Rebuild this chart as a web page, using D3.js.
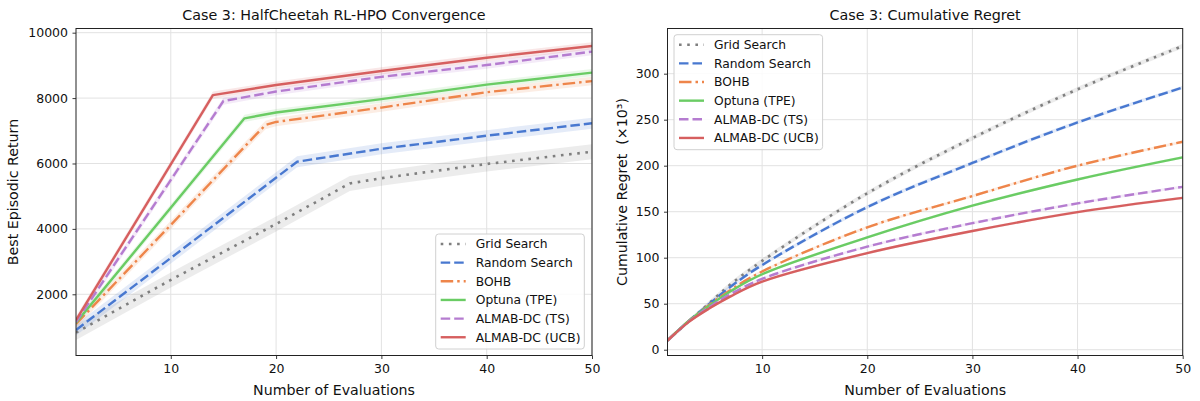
<!DOCTYPE html>
<html>
<head>
<meta charset="utf-8">
<script src="https://cdn.jsdelivr.net/npm/d3@7"></script>
<style>
  html, body { margin: 0; padding: 0; background: #fff; }
  svg { display: block; font-family: "DejaVu Sans", sans-serif; }
  text { white-space: pre; }
</style>
</head>
<body>
<svg id="fig" width="1200" height="401"></svg>
<script>
// ---- data -------------------------------------------------------------
const methods = ["Grid Search", "Random Search", "BOHB", "Optuna (TPE)", "ALMAB-DC (TS)", "ALMAB-DC (UCB)"];
const xTicks = [10, 20, 30, 40, 50];
const returnTicks = [2000, 4000, 6000, 8000, 10000];
const regretTicks = [0, 50, 100, 150, 200, 250, 300];

// best episodic return (mean) sampled at evaluation counts
const gridEvals = [1, 10, 20, 27, 30, 40, 50];
const gridReturn = [830, 2440, 4150, 5390, 5550, 5985, 6360];
const randomEvals = [1, 10, 22, 30, 40, 50];
const randomReturn = [910, 3110, 6055, 6450, 6850, 7230];
const bohbEvals = [1, 10, 18, 19, 20, 30, 40, 50];
const bohbReturn = [1090, 4120, 6850, 7180, 7270, 7710, 8180, 8520];
const tpeEvals = [1, 17, 20, 30, 40, 50];
const tpeReturn = [1130, 7380, 7560, 7970, 8410, 8780];
const tsEvals = [1, 15, 20, 30, 40, 50];
const tsReturn = [1150, 7910, 8200, 8650, 9010, 9420];
const ucbEvals = [1, 14, 20, 30, 40, 50];
const ucbReturn = [1210, 8090, 8400, 8830, 9235, 9595];
// half-width of the shaded spread around each return curve
const returnSpread = [230, 170, 130, 110, 110, 110];

// cumulative regret (x10^3)
const regretEvals = [1, 3, 5, 7, 10, 20, 30, 40, 50];
const gridRegret = [10, 30.5, 51, 71, 96.5, 170, 230, 283, 330];
const randomRegret = [10, 31, 50, 68.5, 92, 155, 203, 247, 285];
const bohbRegret = [10, 31, 49, 65, 85, 133, 167, 200, 226];
const tpeRegret = [10, 31, 48, 63.5, 82, 122, 156.5, 185, 209];
const tsRegret = [10, 30.5, 46.5, 60.5, 77, 112, 137.5, 159, 177];
const ucbRegret = [10, 30, 45, 58, 74, 105, 129, 149.5, 165];
const regretSpread = [2.5, 2, 1.5, 1.5, 1.5, 1.5];

// ---- styling -----------------------------------------------------------
const colors = ["#7f7f7f", "#4878d0", "#ee854a", "#6acc64", "#b57cd0", "#d65f5f"];
const dashes = ["2.6,5.6", "9.5,4", "12.5,4,2.5,4", null, "9.5,4", null];
const widths = [2.6, 2.4, 2.4, 2.4, 2.4, 2.4];

const returnSeries = [
  [gridEvals, gridReturn], [randomEvals, randomReturn], [bohbEvals, bohbReturn],
  [tpeEvals, tpeReturn], [tsEvals, tsReturn], [ucbEvals, ucbReturn]
].map(([xs, ys], i) => ({ name: methods[i], i, pts: xs.map((x, k) => ({ x, y: ys[k], s: returnSpread[i] })) }));

const regretSeries = [gridRegret, randomRegret, bohbRegret, tpeRegret, tsRegret, ucbRegret]
  .map((ys, i) => ({ name: methods[i], i, pts: regretEvals.map((x, k) => ({ x, y: ys[k], s: regretSpread[i] })) }));

const svg = d3.select("#fig");

function panel(opts) {
  const { left, right, top, bottom, yDomain, yTicks, series, curve, title, ylabel, ylabelX, legend, id } = opts;
  const x = d3.scaleLinear().domain([1, 50]).range([left, right]);
  const y = d3.scaleLinear().domain(yDomain).range([bottom, top]);
  const g = svg.append("g");

  g.append("clipPath").attr("id", id).append("rect")
    .attr("x", left).attr("y", top).attr("width", right - left).attr("height", bottom - top);

  // grid
  const grid = g.append("g").attr("stroke", "#d9d9d9").attr("stroke-width", 1).attr("opacity", 0.75);
  xTicks.forEach(t => grid.append("line").attr("x1", x(t)).attr("x2", x(t)).attr("y1", top).attr("y2", bottom));
  yTicks.forEach(t => grid.append("line").attr("x1", left).attr("x2", right).attr("y1", y(t)).attr("y2", y(t)));

  const plot = g.append("g").attr("clip-path", `url(#${id})`);
  const area = d3.area().x(d => x(d.x)).y0(d => y(d.y - d.s)).y1(d => y(d.y + d.s)).curve(curve);
  const line = d3.line().x(d => x(d.x)).y(d => y(d.y)).curve(curve);

  series.forEach(s => {
    plot.append("path").attr("d", area(s.pts)).attr("fill", colors[s.i]).attr("opacity", 0.15);
  });
  series.forEach(s => {
    plot.append("path").attr("d", line(s.pts)).attr("fill", "none")
      .attr("stroke", colors[s.i]).attr("stroke-width", widths[s.i])
      .attr("stroke-dasharray", dashes[s.i]).attr("stroke-linejoin", "round");
  });

  // axes
  const xAxis = d3.axisBottom(x).tickValues(xTicks).tickSize(3.5).tickPadding(4.5).tickFormat(d3.format("d"));
  const yAxis = d3.axisLeft(y).tickValues(yTicks).tickSize(3.5).tickPadding(4.5).tickFormat(d3.format("d"));
  const ax = g.append("g").attr("transform", `translate(0,${bottom})`).call(xAxis);
  const ay = g.append("g").attr("transform", `translate(${left},0)`).call(yAxis);
  [ax, ay].forEach(a => {
    a.select(".domain").remove();
    a.selectAll(".tick line").attr("stroke", "#222").attr("stroke-width", 0.9);
    a.selectAll(".tick text").attr("fill", "#111").style("font-size", "12.5px").style("font-family", "DejaVu Sans");
  });
  ax.selectAll(".tick text").attr("dy", "0.75em");

  // spines
  g.append("rect").attr("x", left).attr("y", top).attr("width", right - left).attr("height", bottom - top)
    .attr("fill", "none").attr("stroke", "#222").attr("stroke-width", 1);

  // titles and labels
  g.append("text").attr("x", (left + right) / 2).attr("y", 20).attr("text-anchor", "middle")
    .style("font-size", "14.3px").attr("fill", "#111").text(title);
  g.append("text").attr("x", (left + right) / 2).attr("y", 394.5).attr("text-anchor", "middle")
    .style("font-size", "14.2px").attr("fill", "#111").text("Number of Evaluations");
  g.append("text").attr("transform", `translate(${ylabelX},${(top + bottom) / 2}) rotate(-90)`)
    .attr("text-anchor", "middle").style("font-size", "14.2px").attr("fill", "#111").text(ylabel);

  // legend
  const lg = g.append("g").attr("transform", `translate(${legend.x},${legend.y})`);
  lg.append("rect").attr("width", 148.6).attr("height", 115).attr("rx", 3)
    .attr("fill", "#fff").attr("fill-opacity", 0.85).attr("stroke", "#d0d0d0").attr("stroke-width", 1);
  methods.forEach((m, i) => {
    const cy = 10 + i * 18.65;
    lg.append("line").attr("x1", 5).attr("x2", 30).attr("y1", cy).attr("y2", cy)
      .attr("stroke", colors[i]).attr("stroke-width", widths[i]).attr("stroke-dasharray", dashes[i]);
    lg.append("text").attr("x", 40).attr("y", cy).attr("dy", "0.36em")
      .style("font-size", "12.3px").attr("fill", "#111").text(m);
  });
}

panel({
  id: "clipReturn", left: 76, right: 592, top: 28.5, bottom: 355.5,
  yDomain: [128, 10128], yTicks: returnTicks, series: returnSeries, curve: d3.curveLinear,
  title: "Case 3: HalfCheetah RL-HPO Convergence", ylabel: "Best Episodic Return", ylabelX: 17.5,
  legend: { x: 435.7, y: 234 }
});

panel({
  id: "clipRegret", left: 667.5, right: 1182.7, top: 28.5, bottom: 355.5,
  yDomain: [-6.3, 349.1], yTicks: regretTicks, series: regretSeries, curve: d3.curveCatmullRom.alpha(0.5),
  title: "Case 3: Cumulative Regret", ylabel: "Cumulative Regret  (×10³)", ylabelX: 627,
  legend: { x: 674, y: 34.7 }
});
</script>
</body>
</html>
